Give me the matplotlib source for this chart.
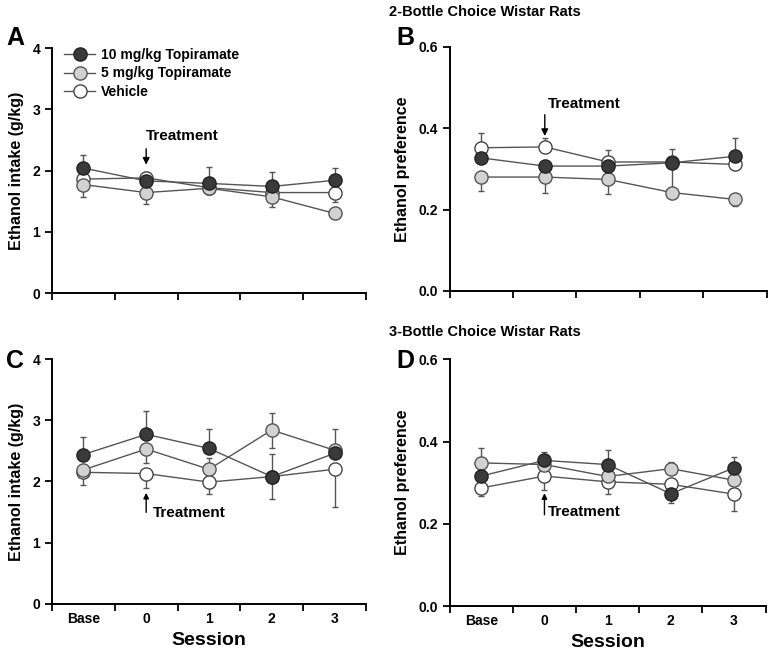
import matplotlib
matplotlib.use("Agg")
import matplotlib.pyplot as plt

plt.rcParams['font.family'] = ['Liberation Sans', 'DejaVu Sans']
plt.rcParams['font.weight'] = 'bold'

sessions = ['Base', '0', '1', '2', '3']
groups = ['10 mg/kg Topiramate', '5 mg/kg Topiramate', 'Vehicle']

# panel A: 2-bottle intake (g/kg)
a_mean = [[2.04, 1.83, 1.79, 1.74, 1.84],
          [1.77, 1.64, 1.71, 1.57, 1.30],
          [1.86, 1.88, 1.72, 1.64, 1.64]]
a_lo = [[0, 0, 0, 0, 0], [0.21, 0.19, 0.10, 0.17, 0.05], [0, 0, 0.10, 0, 0.15]]
a_hi = [[0.22, 0.15, 0.26, 0.24, 0.20], [0, 0, 0, 0, 0], [0, 0.10, 0, 0, 0]]

# panel B: 2-bottle preference
b_mean = [[0.327, 0.307, 0.307, 0.315, 0.331],
          [0.280, 0.280, 0.274, 0.242, 0.225],
          [0.352, 0.354, 0.317, 0.317, 0.311]]
b_lo = [[0, 0, 0, 0.07, 0], [0.035, 0.038, 0.035, 0, 0.016], [0, 0, 0, 0, 0]]
b_hi = [[0, 0, 0, 0, 0.045], [0, 0, 0, 0, 0], [0.037, 0.022, 0.029, 0.031, 0]]

# panel C: 3-bottle intake (g/kg)
c_mean = [[2.44, 2.77, 2.54, 2.08, 2.46],
          [2.19, 2.53, 2.20, 2.84, 2.51],
          [2.15, 2.13, 1.99, 2.08, 2.20]]
c_lo = [[0, 0, 0, 0, 0], [0, 0.22, 0, 0.29, 0], [0.21, 0.24, 0.20, 0.37, 0.61]]
c_hi = [[0.28, 0.38, 0.31, 0, 0], [0, 0, 0.18, 0.28, 0.35], [0, 0, 0, 0.37, 0]]

# panel D: 3-bottle preference
d_mean = [[0.316, 0.354, 0.344, 0.273, 0.336],
          [0.348, 0.344, 0.315, 0.334, 0.306],
          [0.287, 0.316, 0.302, 0.296, 0.272]]
d_lo = [[0, 0, 0, 0.022, 0], [0, 0, 0, 0, 0], [0.02, 0.033, 0.03, 0, 0.042]]
d_hi = [[0, 0.021, 0.035, 0, 0.026], [0.037, 0, 0, 0.015, 0], [0, 0, 0, 0, 0]]

faces = ['#3a3a3a', '#d2d2d2', 'white']
edges = ['#222222', '#555555', '#444444']

fig = plt.figure(figsize=(7.78, 6.58), dpi=100)

boxes = {
    'A': [0.0668, 0.5547, 0.4036, 0.3723],
    'B': [0.578, 0.5578, 0.4075, 0.371],
    'C': [0.0668, 0.0821, 0.4036, 0.3723],
    'D': [0.578, 0.079, 0.406, 0.375],
}
panels = {
    'A': (a_mean, a_lo, a_hi, 4, [0, 1, 2, 3, 4], ['0', '1', '2', '3', '4'], 'Ethanol intake (g/kg)'),
    'B': (b_mean, b_lo, b_hi, 0.6, [0, 0.2, 0.4, 0.6], ['0.0', '0.2', '0.4', '0.6'], 'Ethanol preference'),
    'C': (c_mean, c_lo, c_hi, 4, [0, 1, 2, 3, 4], ['0', '1', '2', '3', '4'], 'Ethanol intake (g/kg)'),
    'D': (d_mean, d_lo, d_hi, 0.6, [0, 0.2, 0.4, 0.6], ['0.0', '0.2', '0.4', '0.6'], 'Ethanol preference'),
}

x = [0.5, 1.5, 2.5, 3.5, 4.5]
axes = {}
for key in ['A', 'B', 'C', 'D']:
    mean, lo, hi, ymax, yt, ytl, ylab = panels[key]
    ax = fig.add_axes(boxes[key])
    axes[key] = ax
    for i in range(3):
        ax.errorbar(x, mean[i], yerr=[lo[i], hi[i]], fmt='none', ecolor='#555555',
                    elinewidth=1, capsize=2.5, capthick=1, zorder=2)
    for i in [2, 1, 0]:
        ax.plot(x, mean[i], '-o', color='#555555', lw=1, ms=9.5,
                mfc=faces[i], mec=edges[i], mew=1, label=groups[i], zorder=3 + (2 - i))
    ax.set_xlim(0, 5)
    ax.set_ylim(0, ymax)
    ax.set_yticks(yt)
    ax.set_yticklabels(ytl, fontsize=10, fontweight='bold')
    ax.set_xticks([0, 1, 2, 3, 4, 5])
    ax.set_xticklabels([])
    ax.set_xticks(x, minor=True)
    ax.tick_params(axis='x', which='minor', length=0, pad=6)
    ax.tick_params(axis='both', which='major', width=1.3, length=5, direction='out')
    for s in ['top', 'right']:
        ax.spines[s].set_visible(False)
    for s in ['left', 'bottom']:
        ax.spines[s].set_linewidth(1.4)
    ax.set_ylabel(ylab, fontsize=11.5, fontweight='bold', labelpad=6)
    if key in ['C', 'D']:
        ax.set_xticklabels(sessions, minor=True, fontsize=10, fontweight='bold')
        ax.set_xlabel('Session', fontsize=14, fontweight='bold', labelpad=4)

# legend in panel A
h, l = axes['A'].get_legend_handles_labels()
axes['A'].legend(h[::-1], l[::-1], loc='upper left', bbox_to_anchor=(0.0, 1.05),
                 frameon=False, handlelength=2.2, handletextpad=0.4,
                 labelspacing=0.3, prop={'weight': 'bold', 'size': 10})

# treatment arrows
axes['A'].annotate('', xy=(1.5, 2.05), xytext=(1.5, 2.4),
                   arrowprops=dict(arrowstyle='-|>', color='black', lw=1, mutation_scale=10))
axes['A'].text(1.5, 2.57, 'Treatment', fontsize=11, fontweight='bold', va='center', ha='left')
axes['B'].annotate('', xy=(1.5, 0.374), xytext=(1.5, 0.44),
                   arrowprops=dict(arrowstyle='-|>', color='black', lw=1, mutation_scale=10))
axes['B'].text(1.55, 0.46, 'Treatment', fontsize=11, fontweight='bold', va='center', ha='left')
axes['C'].annotate('', xy=(1.5, 1.86), xytext=(1.5, 1.45),
                   arrowprops=dict(arrowstyle='-|>', color='black', lw=1, mutation_scale=8))
axes['C'].text(1.6, 1.49, 'Treatment', fontsize=11, fontweight='bold', va='center', ha='left')
axes['D'].annotate('', xy=(1.5, 0.281), xytext=(1.5, 0.215),
                   arrowprops=dict(arrowstyle='-|>', color='black', lw=1, mutation_scale=8))
axes['D'].text(1.55, 0.229, 'Treatment', fontsize=11, fontweight='bold', va='center', ha='left')

# titles and panel letters
fig.text(0.623, 0.982, '2-Bottle Choice Wistar Rats', fontsize=10.5, fontweight='bold', ha='center', va='center')
fig.text(0.623, 0.495, '3-Bottle Choice Wistar Rats', fontsize=10.5, fontweight='bold', ha='center', va='center')
for key, (px, py) in {'A': (0.008, 0.943), 'B': (0.51, 0.943), 'C': (0.008, 0.452), 'D': (0.51, 0.452)}.items():
    fig.text(px, py, key, fontsize=18, fontweight='bold', ha='left', va='center')

fig.savefig('out.png', dpi=100)
